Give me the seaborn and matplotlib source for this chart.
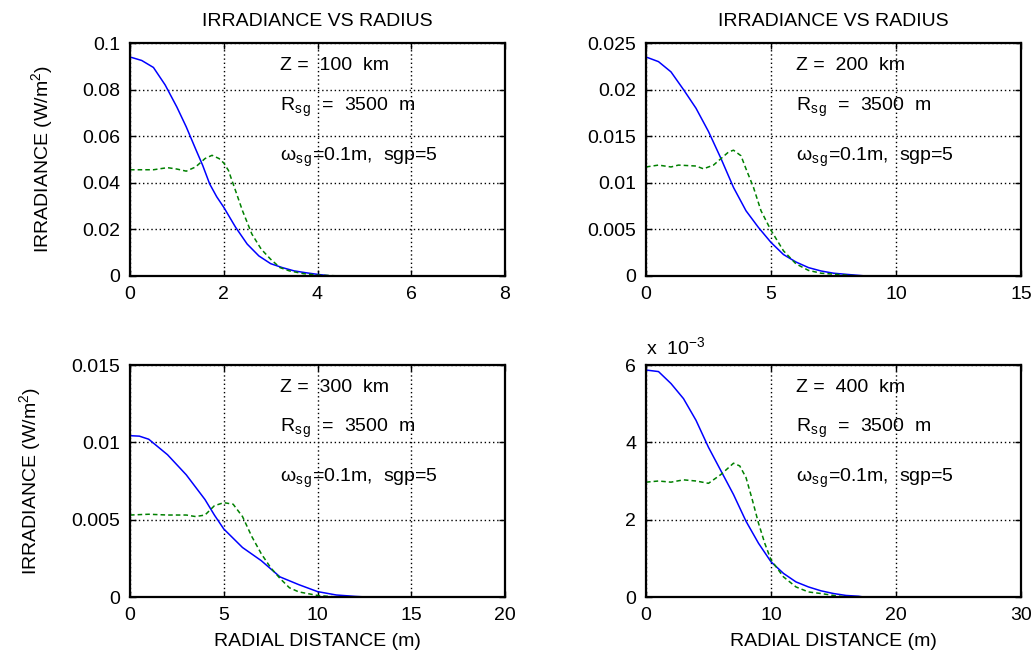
import numpy as np
import pandas as pd
import matplotlib
matplotlib.use("Agg")
import matplotlib.pyplot as plt
import seaborn as sns
from matplotlib.ticker import FixedLocator, FixedFormatter

sns.set_style("white")
plt.rcParams['font.family'] = ['Liberation Sans', 'DejaVu Sans']
plt.rcParams['mathtext.fontset'] = 'custom'
plt.rcParams['mathtext.rm'] = 'Liberation Sans'
plt.rcParams['mathtext.it'] = 'Liberation Sans'
for k in ['text.color', 'axes.labelcolor', 'xtick.color', 'ytick.color']:
    plt.rcParams[k] = 'black'

# ---------------- data ----------------
# Panel 1: Z = 100 km
p1_blue_x = [0, 0.25, 0.5, 0.75, 1.0, 1.2, 1.4, 1.55, 1.7, 1.85, 2.0, 2.25, 2.5, 2.75, 3.0, 3.25, 3.5, 3.75, 4.0, 4.3, 6.5]
p1_blue_y = [0.094, 0.0925, 0.0895, 0.082, 0.0725, 0.064, 0.0545, 0.0475, 0.0395, 0.034, 0.0295, 0.021, 0.0137,
             0.0086, 0.0053, 0.0036, 0.0022, 0.0014, 0.0007, 0.0, 0.0]
p1_green_x = [0, 0.5, 0.8, 1.0, 1.2, 1.4, 1.6, 1.75, 1.9, 2.0, 2.1, 2.25, 2.4, 2.6, 2.8, 3.0, 3.2, 3.4, 3.7, 4.0, 4.5, 6.5]
p1_green_y = [0.0456, 0.0456, 0.0465, 0.0459, 0.045, 0.0468, 0.0504, 0.0518, 0.0504, 0.0485, 0.0453, 0.0367,
              0.028, 0.018, 0.0115, 0.0072, 0.0036, 0.0022, 0.001, 0.0004, 0.0, 0.0]

# Panel 2: Z = 200 km
p2_blue_x = [0, 0.5, 1.0, 1.5, 2.0, 2.5, 3.0, 3.5, 4.0, 4.5, 5.0, 5.5, 6.0, 6.5, 7.0, 7.5, 8.0, 8.8, 13.0]
p2_blue_y = [0.0235, 0.0230, 0.0219, 0.0200, 0.0180, 0.0155, 0.0126, 0.0095, 0.0070, 0.0052, 0.0036, 0.0023,
             0.0015, 0.0009, 0.00054, 0.0003, 0.00018, 0.0, 0.0]
p2_green_x = [0, 0.5, 1.0, 1.3, 2.0, 2.3, 2.7, 3.0, 3.3, 3.5, 3.8, 4.0, 4.3, 4.6, 5.0, 5.5, 6.0, 6.5, 7.0, 7.5, 8.5, 13.0]
p2_green_y = [0.0117, 0.0119, 0.0117, 0.0119, 0.0118, 0.0115, 0.0119, 0.0126, 0.0133, 0.0135, 0.0129, 0.0115,
              0.0095, 0.0070, 0.0049, 0.0027, 0.0013, 0.0006, 0.0003, 0.0002, 0.0, 0.0]

# Panel 3: Z = 300 km
p3_blue_x = [0, 0.5, 1, 2, 3, 4, 4.5, 5, 6, 7, 8, 9, 10, 11, 12, 12.6, 20]
p3_blue_y = [0.01043, 0.0104, 0.0102, 0.0092, 0.0079, 0.0063, 0.0053, 0.0044, 0.0032, 0.00235, 0.0013,
             0.0008, 0.00035, 0.00013, 0.00004, 0.0, 0.0]
p3_green_x = [0, 1, 2, 3, 3.5, 4, 4.5, 5, 5.5, 6, 6.5, 7, 7.5, 8, 8.5, 9, 10, 11, 20]
p3_green_y = [0.0053, 0.00535, 0.0053, 0.0053, 0.0052, 0.0053, 0.0059, 0.0061, 0.0060, 0.0052, 0.0039,
              0.0028, 0.0019, 0.0012, 0.0006, 0.00033, 0.0001, 0.0, 0.0]

# Panel 4: Z = 400 km
p4_blue_x = [0, 1, 2, 3, 4, 5, 6, 7, 8, 9, 10, 11, 12, 13, 14, 15, 16, 17, 17.4, 26]
p4_blue_y = [5.87e-3, 5.83e-3, 5.52e-3, 5.13e-3, 4.57e-3, 3.87e-3, 3.26e-3, 2.65e-3, 1.96e-3, 1.39e-3,
             0.91e-3, 0.61e-3, 0.39e-3, 0.26e-3, 0.16e-3, 0.09e-3, 0.04e-3, 0.02e-3, 0.0, 0.0]
p4_green_x = [0, 1, 2, 3, 4, 5, 6, 7, 7.5, 8, 8.5, 9, 9.5, 10, 10.5, 11, 12, 13, 14, 15, 16, 26]
p4_green_y = [2.97e-3, 3.0e-3, 2.97e-3, 3.03e-3, 3.0e-3, 2.94e-3, 3.17e-3, 3.46e-3, 3.39e-3, 3.09e-3,
              2.52e-3, 1.91e-3, 1.39e-3, 0.96e-3, 0.74e-3, 0.52e-3, 0.26e-3, 0.13e-3, 0.09e-3, 0.04e-3, 0.0, 0.0]

x_ticks = [[0, 2, 4, 6, 8], [0, 5, 10, 15], [0, 5, 10, 15, 20], [0, 10, 20, 30]]
x_ticklabels = [["0", "2", "4", "6", "8"], ["0", "5", "10", "15"],
                ["0", "5", "10", "15", "20"], ["0", "10", "20", "30"]]
y_ticks = [[0, 0.02, 0.04, 0.06, 0.08, 0.1],
           [0, 0.005, 0.01, 0.015, 0.02, 0.025],
           [0, 0.005, 0.01, 0.015],
           [0, 2e-3, 4e-3, 6e-3]]
y_ticklabels = [["0", "0.02", "0.04", "0.06", "0.08", "0.1"],
                ["0", "0.005", "0.01", "0.015", "0.02", "0.025"],
                ["0", "0.005", "0.01", "0.015"],
                ["0", "2", "4", "6"]]
z_labels = ["Z =  100  km", "Z =  200  km", "Z =  300  km", "Z =  400  km"]
title_text = "IRRADIANCE VS RADIUS"
ylabel_text = "IRRADIANCE (W/m$^2$)"
xlabel_text = "RADIAL DISTANCE (m)"

blues = [(p1_blue_x, p1_blue_y), (p2_blue_x, p2_blue_y), (p3_blue_x, p3_blue_y), (p4_blue_x, p4_blue_y)]
greens = [(p1_green_x, p1_green_y), (p2_green_x, p2_green_y), (p3_green_x, p3_green_y), (p4_green_x, p4_green_y)]

# ---------------- figure ----------------
fig = plt.figure(figsize=(10.36, 6.57), dpi=100)
W, H = 1036, 657
boxes = [(130, 43, 505, 276), (646, 43, 1021, 276), (130, 365, 505, 597), (646, 365, 1021, 597)]
ylabel_x = {0: -0.20, 2: -0.232}
FS = 14

for i, (l, t, r, b) in enumerate(boxes):
    ax = fig.add_axes([l / W, 1 - b / H, (r - l) / W, (b - t) / H])
    bx, by = blues[i]
    gx, gy = greens[i]
    sns.lineplot(x=bx, y=by, ax=ax, color=(0, 0, 1), linewidth=1.1, estimator=None, sort=False)
    sns.lineplot(x=gx, y=gy, ax=ax, color=(0, 0.5, 0), linewidth=1.1, linestyle=(0, (3, 2)),
                 estimator=None, sort=False)
    ax.set_xlim(x_ticks[i][0], x_ticks[i][-1])
    ax.set_ylim(y_ticks[i][0], y_ticks[i][-1])
    ax.xaxis.set_major_locator(FixedLocator(x_ticks[i]))
    ax.xaxis.set_major_formatter(FixedFormatter(x_ticklabels[i]))
    ax.yaxis.set_major_locator(FixedLocator(y_ticks[i]))
    ax.yaxis.set_major_formatter(FixedFormatter(y_ticklabels[i]))
    ax.grid(True, linestyle=(0, (1, 2)), color='black', linewidth=1.0)
    ax.tick_params(direction='in', length=4, width=1, labelsize=FS, pad=7,
                   top=True, right=True, bottom=True, left=True)
    for s in ax.spines.values():
        s.set_linewidth(1.6)
        s.set_color('black')
        s.set_visible(True)
    ax.text(0.40, 0.905, z_labels[i], transform=ax.transAxes, fontsize=FS, va='center', ha='left')
    ax.text(0.40, 0.725, r"R$_{\mathrm{s\,g}}$  =  3500  m", transform=ax.transAxes, fontsize=FS,
            va='center', ha='left')
    ax.text(0.40, 0.51, r"$\omega_{\mathrm{s\,g}}$=0.1m,  sgp=5", transform=ax.transAxes, fontsize=FS,
            va='center', ha='left')
    if i < 2:
        ax.set_title(title_text, fontsize=FS, pad=12)
    else:
        ax.set_xlabel(xlabel_text, fontsize=FS, labelpad=7)
    if i % 2 == 0:
        ax.set_ylabel(ylabel_text, fontsize=FS)
        ax.yaxis.set_label_coords(ylabel_x[i], 0.5)
    if i == 3:
        ax.text(0.0, 1.03, r"x  10$^{-3}$", transform=ax.transAxes, fontsize=FS, va='bottom', ha='left')

fig.savefig("out.png", dpi=100)
